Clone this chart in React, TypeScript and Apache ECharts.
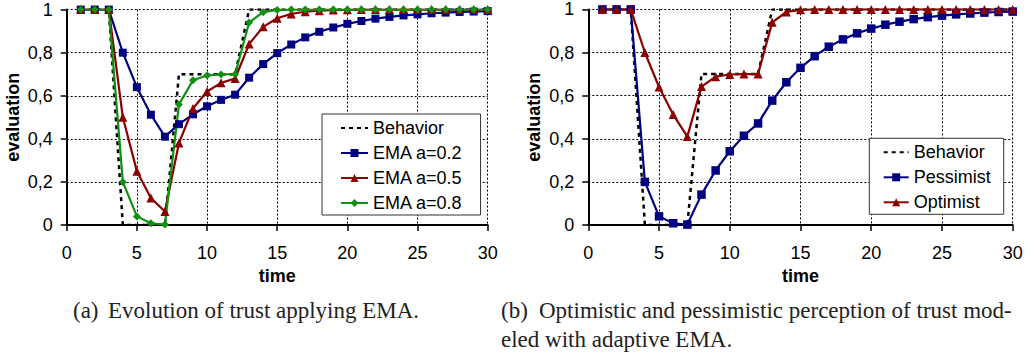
import React, { useEffect, useRef } from "react";
import * as echarts from "echarts";

const times = [1, 2, 3, 4, 5, 6, 7, 8, 9, 10, 11, 12, 13, 14, 15, 16, 17, 18, 19, 20, 21, 22, 23, 24, 25, 26, 27, 28, 29, 30];
const behavior = [1, 1, 1, 0, 0, 0, 0, 0.7, 0.7, 0.7, 0.7, 0.7, 1, 1, 1, 1, 1, 1, 1, 1, 1, 1, 1, 1, 1, 1, 1, 1, 1, 1];
const ema02 = [1, 1, 1, 0.8, 0.64, 0.512, 0.41, 0.468, 0.514, 0.551, 0.581, 0.605, 0.684, 0.747, 0.798, 0.838, 0.871, 0.897, 0.917, 0.934, 0.947, 0.958, 0.966, 0.973, 0.978, 0.983, 0.986, 0.989, 0.991, 0.993];
const ema05 = [1, 1, 1, 0.5, 0.25, 0.125, 0.063, 0.381, 0.541, 0.62, 0.66, 0.68, 0.84, 0.92, 0.96, 0.98, 0.99, 0.995, 0.998, 0.999, 1, 1, 1, 1, 1, 1, 1, 1, 1, 1];
const ema08 = [1, 1, 1, 0.2, 0.04, 0.008, 0.002, 0.56, 0.672, 0.694, 0.699, 0.7, 0.94, 0.988, 0.998, 1, 1, 1, 1, 1, 1, 1, 1, 1, 1, 1, 1, 1, 1, 1];
const pessimist = [1, 1, 1, 0.2, 0.04, 0.008, 0.002, 0.141, 0.253, 0.342, 0.414, 0.471, 0.577, 0.662, 0.729, 0.783, 0.827, 0.861, 0.889, 0.911, 0.929, 0.943, 0.955, 0.964, 0.971, 0.977, 0.981, 0.985, 0.988, 0.99];
const optimist = [1, 1, 1, 0.8, 0.64, 0.512, 0.41, 0.642, 0.688, 0.698, 0.7, 0.7, 0.94, 0.988, 0.998, 1, 1, 1, 1, 1, 1, 1, 1, 1, 1, 1, 1, 1, 1, 1];
const yTickLabels = ["0", "0,2", "0,4", "0,6", "0,8", "1"];
const xName = "time";
const yName = "evaluation";
const captionA = ["(a)", "Evolution of trust applying EMA."];
const captionB = ["(b)", "Optimistic and pessimistic perception of trust mod-", "eled with adaptive EMA."];

const SANS = "Liberation Sans";
const SERIF = "Liberation Serif";
const BLUE = "#000080";
const RED = "#8b0000";
const GREEN = "#109010";

const pairs = (vals: number[]) => times.map((t, i) => [t, vals[i]]);

function xAxisFor(gridIndex: number) {
  return {
    type: "value",
    gridIndex,
    min: 0,
    max: 30,
    interval: 5,
    name: xName,
    nameLocation: "middle",
    nameGap: 33,
    nameTextStyle: { fontFamily: SANS, fontSize: 18, fontWeight: "bold", color: "#000" },
    axisLine: { show: true, lineStyle: { color: "#000", width: 2 } },
    axisTick: { show: true, inside: false, length: 6, lineStyle: { color: "#000", width: 1.5 } },
    axisLabel: { margin: 19, fontFamily: SANS, fontSize: 18, color: "#000" },
    splitLine: { show: true, lineStyle: { color: "#000", width: 1, type: [2, 2] } },
  };
}

function yAxisFor(gridIndex: number) {
  return {
    type: "value",
    gridIndex,
    min: 0,
    max: 1,
    interval: 0.2,
    name: yName,
    nameLocation: "middle",
    nameGap: 45,
    nameTextStyle: { fontFamily: SANS, fontSize: 18, fontWeight: "bold", color: "#000" },
    axisLine: { show: true, lineStyle: { color: "#000", width: 2 } },
    axisTick: { show: true, inside: false, length: 6, lineStyle: { color: "#000", width: 1.5 } },
    axisLabel: {
      margin: 14,
      fontFamily: SANS,
      fontSize: 18,
      color: "#000",
      formatter: (v: number) => yTickLabels[Math.round(v / 0.2)],
    },
    splitLine: { show: true, lineStyle: { color: "#000", width: 1, type: [2, 2] } },
  };
}

function behaviorSeries(idx: number) {
  return {
    name: "Behavior",
    type: "line",
    xAxisIndex: idx,
    yAxisIndex: idx,
    data: pairs(behavior),
    symbol: "none",
    showSymbol: false,
    lineStyle: { color: "#000", width: 2.5, type: [4, 4] },
    itemStyle: { color: "#000" },
    z: 2,
  };
}

function markedSeries(name: string, idx: number, vals: number[], color: string, symbol: string, size: number) {
  return {
    name,
    type: "line",
    xAxisIndex: idx,
    yAxisIndex: idx,
    data: pairs(vals),
    symbol,
    symbolSize: size,
    showSymbol: true,
    lineStyle: { color, width: 2.2 },
    itemStyle: { color, borderWidth: 0 },
    z: 3,
  };
}

const legendBase = {
  orient: "vertical",
  backgroundColor: "#fff",
  borderColor: "#333",
  borderWidth: 1,
  itemGap: 5,
  itemHeight: 10,
  textStyle: { fontFamily: SANS, fontSize: 18, color: "#000", lineHeight: 20 },
  z: 10,
};

const behaviorLegendItem = { name: "Behavior", itemStyle: { opacity: 0 } };

const captionStyle = { fontFamily: SERIF, fontSize: 23, fill: "#222" };

export default function App() {
  const ref = useRef<HTMLDivElement>(null);
  useEffect(() => {
    if (!ref.current) return;
    const chart = echarts.init(ref.current, undefined, { renderer: "svg" });
    const option: any = {
      animation: false,
      backgroundColor: "#fff",
      grid: [
        { left: 66.7, top: 9.6, width: 421, height: 215.4 },
        { left: 588.3, top: 9.4, width: 424.4, height: 215.6 },
      ],
      xAxis: [xAxisFor(0), xAxisFor(1)],
      yAxis: [yAxisFor(0), yAxisFor(1)],
      legend: [
        {
          ...legendBase,
          left: 322,
          top: 114,
          padding: [4, 18, 2, 18],
          itemWidth: 27,
          data: [behaviorLegendItem, "EMA a=0.2", "EMA a=0.5", "EMA a=0.8"],
        },
        {
          ...legendBase,
          left: 869.3,
          top: 138.3,
          padding: [4, 13, 2, 13.4],
          itemWidth: 25,
          data: [behaviorLegendItem, "Pessimist", "Optimist"],
        },
      ],
      series: [
        behaviorSeries(0),
        markedSeries("EMA a=0.2", 0, ema02, BLUE, "rect", 8),
        markedSeries("EMA a=0.5", 0, ema05, RED, "triangle", 9),
        markedSeries("EMA a=0.8", 0, ema08, GREEN, "diamond", 8),
        behaviorSeries(1),
        markedSeries("Pessimist", 1, pessimist, BLUE, "rect", 8.5),
        markedSeries("Optimist", 1, optimist, RED, "triangle", 9),
      ],
      graphic: [
        { type: "text", left: 73, top: 299, style: { text: captionA[0], ...captionStyle } },
        { type: "text", left: 108, top: 299, style: { text: captionA[1], ...captionStyle } },
        { type: "text", left: 501, top: 299, style: { text: captionB[0], ...captionStyle } },
        { type: "text", left: 539, top: 299, style: { text: captionB[1], ...captionStyle } },
        { type: "text", left: 501, top: 328, style: { text: captionB[2], ...captionStyle } },
      ],
    };
    chart.setOption(option);
    return () => chart.dispose();
  }, []);
  return (
    <div
      ref={ref}
      style={{ position: "fixed", left: 0, top: 0, width: 1034, height: 356, background: "#fff" }}
    />
  );
}
